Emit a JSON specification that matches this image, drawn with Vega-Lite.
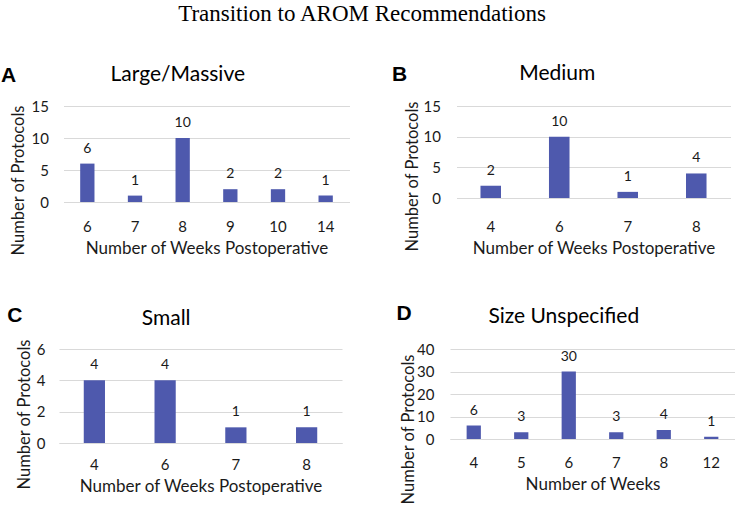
{
  "$schema": "https://vega.github.io/schema/vega-lite/v6.json",
  "padding": {"left": 1, "top": 3, "right": 2, "bottom": 2},
  "background": "white",
  "title": {"text": "Transition to AROM Recommendations", "font": "Liberation Serif", "fontSize": 23, "fontWeight": "normal", "color": "black", "anchor": "middle", "offset": 37, "dx": -6},
  "datasets": {
    "protocols": [
      {"panel": "A", "weeks": 6, "count": 6},
      {"panel": "A", "weeks": 7, "count": 1},
      {"panel": "A", "weeks": 8, "count": 10},
      {"panel": "A", "weeks": 9, "count": 2},
      {"panel": "A", "weeks": 10, "count": 2},
      {"panel": "A", "weeks": 14, "count": 1},
      {"panel": "B", "weeks": 4, "count": 2},
      {"panel": "B", "weeks": 6, "count": 10},
      {"panel": "B", "weeks": 7, "count": 1},
      {"panel": "B", "weeks": 8, "count": 4},
      {"panel": "C", "weeks": 4, "count": 4},
      {"panel": "C", "weeks": 6, "count": 4},
      {"panel": "C", "weeks": 7, "count": 1},
      {"panel": "C", "weeks": 8, "count": 1},
      {"panel": "D", "weeks": 4, "count": 6},
      {"panel": "D", "weeks": 5, "count": 3},
      {"panel": "D", "weeks": 6, "count": 30},
      {"panel": "D", "weeks": 7, "count": 3},
      {"panel": "D", "weeks": 8, "count": 4},
      {"panel": "D", "weeks": 12, "count": 1}
    ]
  },
  "config": {
    "view": {"stroke": null},
    "axis": {"labelFont": "Lato", "titleFont": "Lato", "labelFontSize": 15, "titleFontSize": 16.5, "titleFontWeight": "normal", "labelColor": "#1a1a1a", "titleColor": "#1a1a1a", "gridColor": "#d9d9d9", "domainColor": "#d9d9d9", "ticks": false},
    "axisX": {"labelAngle": 0, "titlePadding": 6, "titleFontSize": 17, "grid": false, "domain": true},
    "axisY": {"grid": true, "domain": false},
    "bar": {"color": "#4e59ad"},
    "text": {"font": "Lato", "fontSize": 14, "color": "#1a1a1a", "dy": -15}
  },
  "center": true,
  "spacing": 47,
  "vconcat": [
    {
      "spacing": 42,
      "hconcat": [
        {
          "title": {"text": "A", "anchor": "start", "frame": "bounds", "font": "Liberation Sans", "fontSize": 21, "fontWeight": "bold", "color": "black", "dx": -9, "dy": 22, "offset": 0},
          "vconcat": [
            {
              "width": 286, "height": 96,
              "title": {"text": "Large/Massive", "font": "Lato", "fontSize": 21, "fontWeight": "normal", "color": "black", "anchor": "middle", "frame": "bounds", "offset": 14, "dx": -2},
              "data": {"name": "protocols"},
              "transform": [{"filter": "datum.panel === 'A'"}],
              "encoding": {
                "x": {"field": "weeks", "type": "ordinal", "scale": {"paddingInner": 0.7, "paddingOuter": 0.35}, "axis": {"title": "Number of Weeks Postoperative", "labelPadding": 17}},
                "y": {"field": "count", "type": "quantitative", "scale": {"domain": [0, 15]}, "axis": {"title": "Number of Protocols", "values": [0, 5, 10, 15], "labelPadding": 15, "titlePadding": 5, "titleY": 74}}
              },
              "layer": [
                {"mark": {"type": "bar"}},
                {"mark": {"type": "text"}, "encoding": {"text": {"field": "count", "type": "quantitative"}}}
              ]
            }
          ]
        },
        {
          "title": {"text": "B", "anchor": "start", "frame": "bounds", "font": "Liberation Sans", "fontSize": 21, "fontWeight": "bold", "color": "black", "dx": -12, "dy": 22, "offset": 0},
          "vconcat": [
            {
              "width": 274, "height": 92,
              "title": {"text": "Medium", "font": "Lato", "fontSize": 21, "fontWeight": "normal", "color": "black", "anchor": "middle", "frame": "bounds", "offset": 15, "dx": -10},
              "data": {"name": "protocols"},
              "transform": [{"filter": "datum.panel === 'B'"}],
              "encoding": {
                "x": {"field": "weeks", "type": "ordinal", "scale": {"paddingInner": 0.7, "paddingOuter": 0.35}, "axis": {"title": "Number of Weeks Postoperative", "labelPadding": 21}},
                "y": {"field": "count", "type": "quantitative", "scale": {"domain": [0, 15]}, "axis": {"title": "Number of Protocols", "values": [0, 5, 10, 15], "labelPadding": 16, "titlePadding": 3, "titleY": 70}}
              },
              "layer": [
                {"mark": {"type": "bar"}},
                {"mark": {"type": "text"}, "encoding": {"text": {"field": "count", "type": "quantitative"}}}
              ]
            }
          ]
        }
      ]
    },
    {
      "spacing": 54,
      "hconcat": [
        {
          "title": {"text": "C", "anchor": "start", "frame": "bounds", "font": "Liberation Sans", "fontSize": 21, "fontWeight": "bold", "color": "black", "dx": -9, "dy": 18, "offset": 0},
          "vconcat": [
            {
              "width": 283, "height": 94,
              "title": {"text": "Small", "font": "Lato", "fontSize": 21, "fontWeight": "normal", "color": "black", "anchor": "middle", "frame": "bounds", "offset": 10, "dx": -13},
              "data": {"name": "protocols"},
              "transform": [{"filter": "datum.panel === 'C'"}],
              "encoding": {
                "x": {"field": "weeks", "type": "ordinal", "scale": {"paddingInner": 0.7, "paddingOuter": 0.35}, "axis": {"title": "Number of Weeks Postoperative", "labelPadding": 14}},
                "y": {"field": "count", "type": "quantitative", "scale": {"domain": [0, 6]}, "axis": {"title": "Number of Protocols", "values": [0, 2, 4, 6], "labelPadding": 14, "titlePadding": 4, "titleY": 65}}
              },
              "layer": [
                {"mark": {"type": "bar"}},
                {"mark": {"type": "text"}, "encoding": {"text": {"field": "count", "type": "quantitative"}}}
              ]
            }
          ]
        },
        {
          "title": {"text": "D", "anchor": "start", "frame": "bounds", "font": "Liberation Sans", "fontSize": 21, "fontWeight": "bold", "color": "black", "dx": -4, "dy": 18, "offset": 0},
          "vconcat": [
            {
              "width": 285, "height": 90,
              "title": {"text": "Size Unspecified", "font": "Lato", "fontSize": 21, "fontWeight": "normal", "color": "black", "anchor": "middle", "frame": "bounds", "offset": 15, "dx": -4},
              "data": {"name": "protocols"},
              "transform": [{"filter": "datum.panel === 'D'"}],
              "encoding": {
                "x": {"field": "weeks", "type": "ordinal", "scale": {"paddingInner": 0.7, "paddingOuter": 0.35}, "axis": {"title": "Number of Weeks", "labelPadding": 16}},
                "y": {"field": "count", "type": "quantitative", "scale": {"domain": [0, 40]}, "axis": {"title": "Number of Protocols", "values": [0, 10, 20, 30, 40], "labelPadding": 16, "titlePadding": 0, "titleY": 80}}
              },
              "layer": [
                {"mark": {"type": "bar"}},
                {"mark": {"type": "text"}, "encoding": {"text": {"field": "count", "type": "quantitative"}}}
              ]
            }
          ]
        }
      ]
    }
  ]
}
